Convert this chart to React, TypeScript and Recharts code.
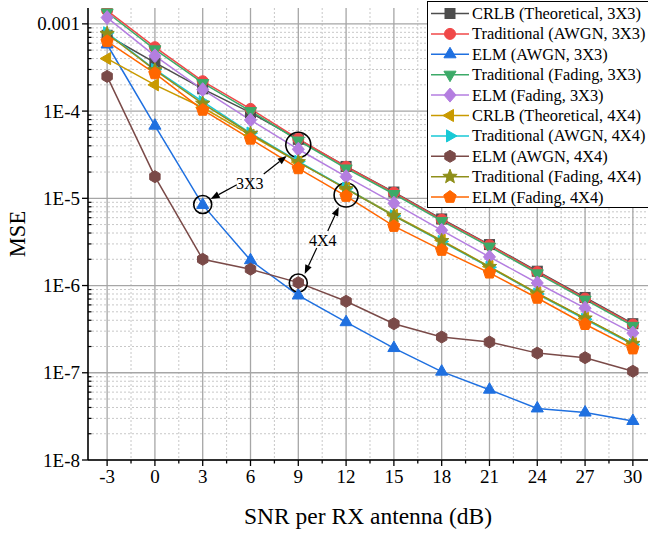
import React from "react";
import {
  CartesianGrid,
  Legend,
  Line,
  LineChart,
  ReferenceDot,
  ReferenceLine,
  XAxis,
  YAxis,
} from "recharts";

const snr = [-3, 0, 3, 6, 9, 12, 15, 18, 21, 24, 27, 30];

const crlb3 = [7.4e-4, 3.6e-4, 1.8e-4, 9.6e-5, 4.75e-5, 2.32e-5, 1.18e-5, 5.8e-6, 2.95e-6, 1.46e-6, 7.3e-7, 3.65e-7];
const tradAwgn3 = [1.42e-3, 5.4e-4, 2.2e-4, 1.06e-4, 4.8e-5, 2.3e-5, 1.16e-5, 5.7e-6, 2.9e-6, 1.43e-6, 7.1e-7, 3.58e-7];
const elmAwgn3 = [5.8e-4, 6.8e-5, 8.4e-6, 1.95e-6, 7.7e-7, 3.8e-7, 1.92e-7, 1.03e-7, 6.4e-8, 3.9e-8, 3.5e-8, 2.8e-8];
const tradFad3 = [1.35e-3, 5.1e-4, 2.1e-4, 1.0e-4, 4.6e-5, 2.2e-5, 1.12e-5, 5.5e-6, 2.8e-6, 1.38e-6, 6.9e-7, 3.45e-7];
const elmFad3 = [1.18e-3, 4.3e-4, 1.76e-4, 7.9e-5, 3.65e-5, 1.77e-5, 8.8e-6, 4.3e-6, 2.13e-6, 1.07e-6, 5.5e-7, 2.85e-7];
const crlb4 = [4.0e-4, 2.0e-4, 1.1e-4, 5.3e-5, 2.6e-5, 1.3e-5, 6.4e-6, 3.3e-6, 1.65e-6, 8.2e-7, 4.2e-7, 2.15e-7];
const tradAwgn4 = [7.9e-4, 3.0e-4, 1.28e-4, 5.6e-5, 2.65e-5, 1.3e-5, 6.3e-6, 3.2e-6, 1.62e-6, 8.0e-7, 4.1e-7, 2.1e-7];
const elmAwgn4 = [2.5e-4, 1.77e-5, 2.0e-6, 1.54e-6, 1.08e-6, 6.6e-7, 3.65e-7, 2.57e-7, 2.25e-7, 1.68e-7, 1.49e-7, 1.04e-7];
const tradFad4 = [7.7e-4, 2.95e-4, 1.22e-4, 5.5e-5, 2.6e-5, 1.28e-5, 6.3e-6, 3.25e-6, 1.64e-6, 8.1e-7, 4.2e-7, 2.15e-7];
const elmFad4 = [6.3e-4, 2.7e-4, 1.03e-4, 4.8e-5, 2.2e-5, 1.06e-5, 4.8e-6, 2.55e-6, 1.4e-6, 7.2e-7, 3.6e-7, 1.89e-7];

const xMajor = [-3, 0, 3, 6, 9, 12, 15, 18, 21, 24, 27, 30];
const xMinor = [-1.5, 1.5, 4.5, 7.5, 10.5, 13.5, 16.5, 19.5, 22.5, 25.5, 28.5];
const yMajor = [1e-8, 1e-7, 1e-6, 1e-5, 1e-4, 1e-3];
const yMinor = [-8, -7, -6, -5, -4].flatMap((d) =>
  [2, 3, 4, 5, 6, 7, 8, 9].map((k) => k * Math.pow(10, d))
);

// annotation circles [x, y, r]
const circles: [number, number, number][] = [
  [9, 4.1e-5, 12.5],
  [3, 8.5e-6, 9],
  [12, 1.09e-5, 12],
  [9, 1.07e-6, 9],
];
const notes: [string, number, number][] = [
  ["3X3", 5.95, 1.5e-5],
  ["4X4", 10.53, 3.33e-6],
];
const arrows: [number, number, number, number][] = [
  [6.83, 1.9e-5, 8.27, 3.06e-5],
  [5.14, 1.43e-5, 3.5, 9.85e-6],
  [10.85, 4.23e-6, 11.54, 7.96e-6],
  [10.16, 2.7e-6, 9.4, 1.36e-6],
];

const series = [
  { key: "crlb3", name: "CRLB (Theoretical, 3X3)", values: crlb3, color: "#4d4d4d", shape: "square" },
  { key: "tradAwgn3", name: "Traditional (AWGN, 3X3)", values: tradAwgn3, color: "#f04848", shape: "circle" },
  { key: "elmAwgn3", name: "ELM (AWGN, 3X3)", values: elmAwgn3, color: "#1f70e0", shape: "up" },
  { key: "tradFad3", name: "Traditional (Fading, 3X3)", values: tradFad3, color: "#3caa68", shape: "down" },
  { key: "elmFad3", name: "ELM (Fading, 3X3)", values: elmFad3, color: "#b47ee0", shape: "diamond" },
  { key: "crlb4", name: "CRLB (Theoretical, 4X4)", values: crlb4, color: "#c99a00", shape: "left" },
  { key: "tradAwgn4", name: "Traditional (AWGN, 4X4)", values: tradAwgn4, color: "#18c9d6", shape: "right" },
  { key: "elmAwgn4", name: "ELM (AWGN, 4X4)", values: elmAwgn4, color: "#7a4a48", shape: "hexagon" },
  { key: "tradFad4", name: "Traditional (Fading, 4X4)", values: tradFad4, color: "#8f8f1a", shape: "star" },
  { key: "elmFad4", name: "ELM (Fading, 4X4)", values: elmFad4, color: "#ff6600", shape: "pentagon" },
];

const data = snr.map((s, i) => {
  const row: Record<string, number> = { snr: s };
  series.forEach((se) => (row[se.key] = se.values[i]));
  return row;
});

const FONT = "'Liberation Serif', 'Times New Roman', serif";

function poly(n: number, r: number, rot: number) {
  const pts = [];
  for (let i = 0; i < n; i++) {
    const a = ((rot + (360 / n) * i) * Math.PI) / 180;
    pts.push(`${(r * Math.cos(a)).toFixed(2)},${(r * Math.sin(a)).toFixed(2)}`);
  }
  return pts.join(" ");
}

function star(ro: number, ri: number) {
  const pts = [];
  for (let i = 0; i < 10; i++) {
    const r = i % 2 === 0 ? ro : ri;
    const a = ((-90 + 36 * i) * Math.PI) / 180;
    pts.push(`${(r * Math.cos(a)).toFixed(2)},${(r * Math.sin(a)).toFixed(2)}`);
  }
  return pts.join(" ");
}

function Marker({ shape, color, cx, cy }: { shape: string; color: string; cx: number; cy: number }) {
  const t = `translate(${cx},${cy})`;
  const p = { fill: color, stroke: color, strokeWidth: 1 };
  switch (shape) {
    case "square":
      return <rect x={cx - 5} y={cy - 5} width={10} height={10} {...p} />;
    case "circle":
      return <circle cx={cx} cy={cy} r={5.5} {...p} />;
    case "up":
      return <polygon transform={t} points={poly(3, 7, -90)} {...p} />;
    case "down":
      return <polygon transform={t} points={poly(3, 7, 90)} {...p} />;
    case "left":
      return <polygon transform={t} points={poly(3, 7, 180)} {...p} />;
    case "right":
      return <polygon transform={t} points={poly(3, 7, 0)} {...p} />;
    case "diamond":
      return <polygon transform={t} points="0,-7 6,0 0,7 -6,0" {...p} />;
    case "hexagon":
      return <polygon transform={t} points={poly(6, 6, -90)} {...p} />;
    case "star":
      return <polygon transform={t} points={star(7.5, 3.2)} {...p} />;
    default:
      return <polygon transform={t} points={poly(5, 6.5, -90)} {...p} />;
  }
}

const makeDot = (shape: string, color: string) => (props: any) => {
  const { cx, cy, index } = props;
  if (cx == null || cy == null) return <g key={index} />;
  return (
    <g key={`${shape}-${index}`}>
      <Marker shape={shape} color={color} cx={cx} cy={cy} />
    </g>
  );
};

const XTick = (props: any) => {
  const { x, y, payload } = props;
  const major = xMajor.includes(payload.value);
  return (
    <g>
      <line x1={x} x2={x} y1={y} y2={y + (major ? 6 : 3.5)} stroke="#000" strokeWidth={1.3} />
      {major && (
        <text x={x} y={y + 23} textAnchor="middle" style={{ fontFamily: FONT }} fontSize={19} fill="#000">
          {payload.value}
        </text>
      )}
    </g>
  );
};

const yLabel = (v: number) => {
  const e = Math.round(Math.log10(v));
  return e === -3 ? "0.001" : `1E${e}`;
};

const YTick = (props: any) => {
  const { x, y, payload } = props;
  const major = yMajor.some((m) => Math.abs(m - payload.value) / m < 1e-6);
  if (major) {
    return (
      <g>
        <line x1={x - 6} x2={x} y1={y} y2={y} stroke="#000" strokeWidth={1.3} />
        <text x={x - 8} y={y + 6.5} textAnchor="end" style={{ fontFamily: FONT }} fontSize={19} fill="#000">
          {yLabel(payload.value)}
        </text>
      </g>
    );
  }
  return <line x1={x} x2={x + 3.5} y1={y} y2={y} stroke="#000" strokeWidth={1.2} />;
};

const arrowShape = (props: any) => {
  const { x1, y1, x2, y2 } = props;
  const a = Math.atan2(y2 - y1, x2 - x1);
  const L = 9;
  const W = 3.5;
  const bx = x2 - L * Math.cos(a);
  const by = y2 - L * Math.sin(a);
  const px = -Math.sin(a) * W;
  const py = Math.cos(a) * W;
  return (
    <g>
      <line x1={x1} y1={y1} x2={bx} y2={by} stroke="#000" strokeWidth={1.2} />
      <polygon points={`${x2},${y2} ${bx + px},${by + py} ${bx - px},${by - py}`} fill="#000" />
    </g>
  );
};

const renderLegend = () => (
  <div
    style={{
      border: "1px solid #000",
      background: "#fff",
      width: 222,
      height: 207,
      boxSizing: "border-box",
    }}
  >
    <svg width={220} height={205} style={{ display: "block" }}>
      {series.map((s, i) => {
        const cy = 11.5 + i * 20.4;
        return (
          <g key={s.key}>
            <line x1={3} x2={41} y1={cy} y2={cy} stroke={s.color} strokeWidth={1.5} />
            <Marker shape={s.shape} color={s.color} cx={22} cy={cy} />
            <text x={44} y={cy + 5.5} style={{ fontFamily: FONT }} fontSize={16.4} fill="#000">
              {s.name}
            </text>
          </g>
        );
      })}
    </svg>
  </div>
);

export default function App() {
  return (
    <div style={{ position: "absolute", left: 0, top: 0, width: 648, height: 533, background: "#fff" }}>
      <LineChart width={648} height={533} data={data} margin={{ top: 8, right: 0, bottom: 0, left: 0 }}>
        <CartesianGrid
          horizontalValues={yMinor}
          verticalValues={xMinor}
          stroke="#c8c8c8"
          strokeDasharray="2 2"
          strokeWidth={1}
        />
        <CartesianGrid horizontalValues={yMajor} verticalValues={xMajor} stroke="#a6a6a6" strokeWidth={1.3} />
        <XAxis
          dataKey="snr"
          type="number"
          domain={[-4.2, 30.95]}
          allowDataOverflow
          ticks={[...xMajor, ...xMinor].sort((a, b) => a - b)}
          interval={0}
          tick={<XTick />}
          tickLine={false}
          tickSize={0}
          tickMargin={0}
          height={73}
          axisLine={{ stroke: "#000", strokeWidth: 1.6 }}
          label={(p: any) => (
            <text
              x={p.viewBox.x + p.viewBox.width / 2}
              y={p.viewBox.y + 64}
              textAnchor="middle"
              style={{ fontFamily: FONT }}
              fontSize={23.5}
              fill="#000"
            >
              SNR per RX antenna (dB)
            </text>
          )}
        />
        <YAxis
          type="number"
          scale="log"
          domain={[1e-8, 1.52e-3]}
          allowDataOverflow
          ticks={[...yMajor, ...yMinor].sort((a, b) => a - b)}
          interval={0}
          tick={<YTick />}
          tickLine={false}
          tickSize={0}
          tickMargin={0}
          width={88}
          axisLine={{ stroke: "#000", strokeWidth: 1.6 }}
          label={(p: any) => {
            const cx = 24.5;
            const cy = p.viewBox.y + p.viewBox.height / 2;
            return (
              <text
                x={cx}
                y={cy}
                transform={`rotate(-90 ${cx} ${cy})`}
                textAnchor="middle"
                style={{ fontFamily: FONT }}
                fontSize={22.5}
                fill="#000"
              >
                MSE
              </text>
            );
          }}
        />
        {series.map((s) => (
          <Line
            key={s.key}
            type="linear"
            dataKey={s.key}
            name={s.name}
            stroke={s.color}
            strokeWidth={1.5}
            dot={makeDot(s.shape, s.color)}
            activeDot={false}
            isAnimationActive={false}
          />
        ))}
        {circles.map(([x, y, r], i) => (
          <ReferenceDot key={`c${i}`} x={x} y={y} r={r} fill="none" stroke="#000" strokeWidth={1.6} />
        ))}
        {arrows.map(([xa, ya, xb, yb], i) => (
          <ReferenceLine
            key={`a${i}`}
            segment={[
              { x: xa, y: ya },
              { x: xb, y: yb },
            ]}
            shape={arrowShape}
          />
        ))}
        {notes.map(([t, x, y]) => (
          <ReferenceDot
            key={t}
            x={x}
            y={y}
            r={0}
            fill="none"
            stroke="none"
            label={{ value: t, position: "center", fontFamily: FONT, fontSize: 16, fill: "#000" }}
          />
        ))}
        <Legend
          layout="vertical"
          align="center"
          verticalAlign="middle"
          content={renderLegend}
          wrapperStyle={{ top: 1, left: 427, width: 222, height: 207 }}
        />
      </LineChart>
    </div>
  );
}
